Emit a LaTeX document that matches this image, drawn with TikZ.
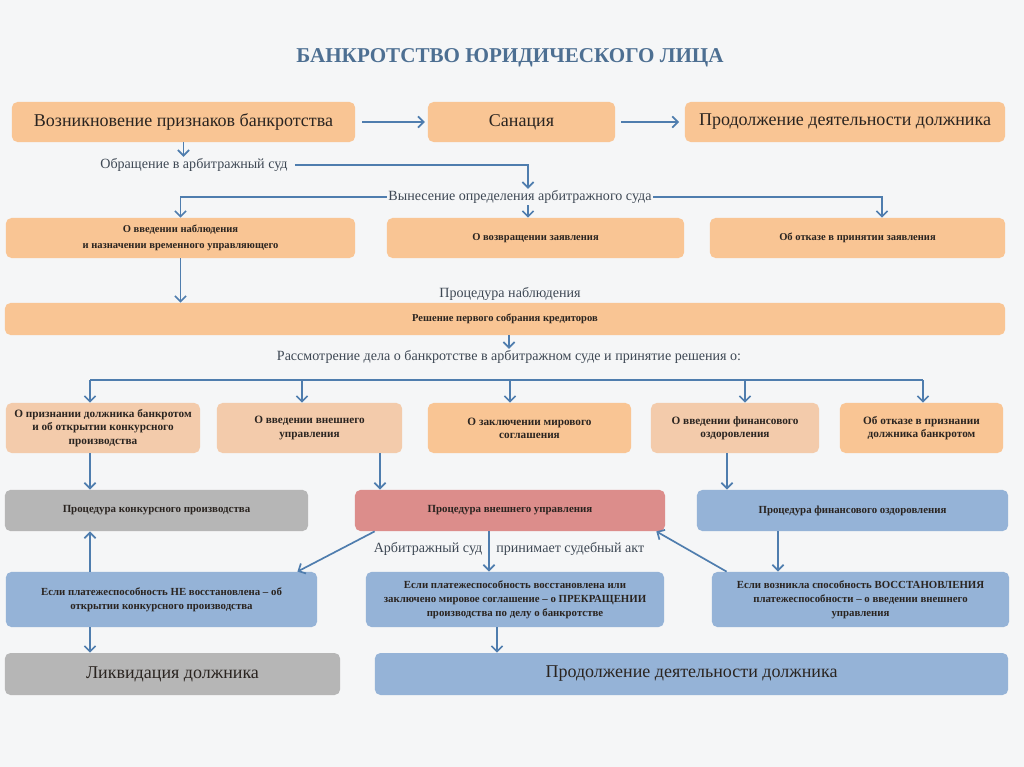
\documentclass[tikz,border=0pt]{standalone}
\usepackage{fontspec}
\setmainfont{Liberation Serif}
\usetikzlibrary{arrows.meta, calc}

\definecolor{bgcol}{HTML}{F5F6F7}
\definecolor{orcol}{HTML}{F9C594}
\definecolor{pecol}{HTML}{F3CBAB}
\definecolor{grcol}{HTML}{B6B6B6}
\definecolor{rdcol}{HTML}{DC8D8B}
\definecolor{blcol}{HTML}{95B3D7}
\definecolor{arrcol}{HTML}{4F7DAE}
\definecolor{txtcol}{HTML}{2A2420}
\definecolor{lblcol}{HTML}{3E4854}
\definecolor{titlecol}{HTML}{4D6F92}

\begin{document}
\begin{tikzpicture}[x=0.025cm, y=-0.025cm, >={Straight Barb[length=4pt,width=8pt]}]
      % Node style
      \tikzset{
        box/.style={rounded corners=4pt, align=center, inner sep=2pt, text=txtcol, font=\fontsize{8}{9.4}\selectfont\bfseries},
        orbox/.style={box, fill=orcol},
        pebox/.style={box, fill=pecol},
        grbox/.style={box, fill=grcol, font=\fontsize{7.75}{9.4}\selectfont\bfseries},
        rdbox/.style={box, fill=rdcol, font=\fontsize{7.75}{9.4}\selectfont\bfseries},
        blbox/.style={box, fill=blcol, font=\fontsize{7.7}{10}\selectfont\bfseries},
        small/.style={font=\fontsize{7.5}{11.5}\selectfont\bfseries},
        big/.style={font=\fontsize{12.8}{15}\selectfont},
        lbl/.style={text=lblcol, inner sep=1pt, font=\fontsize{10}{12}\selectfont},
        line/.style={draw=arrcol, line width=1.2pt},
        arr/.style={line, ->},
      }
      % Background
      \fill[bgcol] (0,0) rectangle (1024,767);
      \useasboundingbox (0,0) rectangle (1024,767);
      % Nodes
      \node (title) [text=titlecol, font=\fontsize{15}{18}\selectfont\bfseries] at (510,58) {БАНКРОТСТВО ЮРИДИЧЕСКОГО ЛИЦА};
      \node (start) [orbox, big, minimum width=8.58cm, minimum height=1cm] at (183.5,122) {Возникновение признаков банкротства};
      \node (sanation) [orbox, big, minimum width=4.68cm, minimum height=1cm] at (521.5,122) {Санация};
      \node (goon) [orbox, big, minimum width=8cm, minimum height=1cm] at (845,122) {Продолжение деятельности должника};
      \node (appeal) [lbl] at (194,165) {Обращение в арбитражный суд};
      \node (ruling) [lbl] at (520,197) {Вынесение определения арбитражного суда};
      \node (watch) [orbox, small, minimum width=8.73cm, minimum height=1cm] at (180.5,238) {О введении наблюдения\\и назначении временного управляющего};
      \node (back) [orbox, small, minimum width=7.43cm, minimum height=1cm] at (535.5,238) {О возвращении заявления};
      \node (refuse) [orbox, small, minimum width=7.38cm, minimum height=1cm] at (857.5,238) {Об отказе в принятии заявления};
      \node (watchlbl) [lbl] at (510,294) {Процедура наблюдения};
      \node (meeting) [orbox, small, minimum width=25cm, minimum height=0.8cm] at (505,319) {Решение первого собрания кредиторов};
      \node (review) [lbl] at (509,357) {Рассмотрение дела о банкротстве в арбитражном суде и принятие решения о:};
      \node (bankrupt) [pebox, minimum width=4.85cm, minimum height=1.25cm] at (103,428) {О признании должника банкротом\\и об открытии конкурсного\\производства};
      \node (extern) [pebox, minimum width=4.63cm, minimum height=1.25cm] at (309.5,428) {О введении внешнего\\управления};
      \node (peace) [orbox, minimum width=5.08cm, minimum height=1.25cm] at (529.5,428) {О заключении мирового\\соглашения};
      \node (finance) [pebox, minimum width=4.2cm, minimum height=1.25cm] at (735,428) {О введении финансового\\оздоровления};
      \node (nobank) [orbox, minimum width=4.08cm, minimum height=1.25cm] at (921.5,428) {Об отказе в признании\\должника банкротом};
      \node (konk) [grbox, minimum width=7.58cm, minimum height=1.03cm] at (156.5,510.5) {Процедура конкурсного производства};
      \node (extproc) [rdbox, minimum width=7.75cm, minimum height=1.03cm] at (510,510.5) {Процедура внешнего управления};
      \node (finproc) [blbox, minimum width=7.78cm, minimum height=1.03cm] at (852.5,510.5) {Процедура финансового оздоровления};
      \node (act) [lbl] at (509,549) {Арбитражный суд\quad принимает судебный акт};
      \node (notrest) [blbox, minimum width=7.78cm, minimum height=1.38cm] at (161.5,599.5) {Если платежеспособность НЕ восстановлена – об\\открытии конкурсного производства};
      \node (stop) [blbox, minimum width=7.45cm, minimum height=1.38cm] at (515,599.5) {Если платежеспособность восстановлена или\\заключено мировое соглашение – о ПРЕКРАЩЕНИИ\\производства по делу о банкротстве};
      \node (restore) [blbox, minimum width=7.43cm, minimum height=1.38cm] at (860.5,599.5) {Если возникла способность ВОССТАНОВЛЕНИЯ\\платежеспособности – о введении внешнего\\управления};
      \node (liquid) [grbox, big, minimum width=8.38cm, minimum height=1.05cm] at (172.5,674) {Ликвидация должника};
      \node (goon2) [blbox, big, minimum width=15.83cm, minimum height=1.05cm] at (691.5,674) {Продолжение деятельности должника};
      % Branch points
      \coordinate (d1) at (90,380);
      \coordinate (d2) at (302,380);
      \coordinate (d3) at (510,380);
      \coordinate (d4) at (745,380);
      \coordinate (d5) at (923,380);
      \coordinate (xm) at (528,0);
      \coordinate (xr) at (882,0);
      \coordinate (xe) at (380,0);
      \coordinate (xf) at (727,0);
      \coordinate (xa) at (489,0);
      \coordinate (xq) at (497,0);
      \coordinate (xo) at (778,0);
      % Arrows
      \draw[arr, shorten <=5pt, shorten >=2pt] (start) -- (sanation);
      \draw[arr, shorten <=4pt, shorten >=4pt] (sanation) -- (goon);
      \draw[arr] (start.south) -- (start.south |- appeal.north);
      \draw[arr, shorten <=4pt] (appeal.east) -| (ruling.north -| xm);
      \draw[arr] (ruling.west) -| (watch.north);
      \draw[arr] (ruling.east) -| (refuse.north -| xr);
      \draw[arr] (ruling.south -| xm) -- (back.north -| xm);
      \draw[arr] (watch.south) -- (watch.south |- meeting.north);
      \draw[arr] (meeting.south -| review.north) -- (review.north);
      \draw[line] (d1) -- (d5);
      \foreach \d/\n in {d1/bankrupt, d2/extern, d3/peace, d4/finance, d5/nobank}
        \draw[arr] (\d) -- (\n.north -| \d);
      \draw[arr] (bankrupt.south -| d1) -- (konk.north -| d1);
      \draw[arr] (extern.south -| xe) -- (extproc.north -| xe);
      \draw[arr] (finance.south -| xf) -- (finproc.north -| xf);
      \draw[arr] (extproc.south -| xa) -- (stop.north -| xa);
      \draw[arr] ($(extproc.south west)+(20,0)$) -- ($(notrest.north east)+(-20,0)$);
      \draw[arr] ($(restore.north west)+(15,0)$) -- ($(extproc.south east)+(-9,0)$);
      \draw[arr] (finproc.south -| xo) -- (restore.north -| xo);
      \draw[arr] (notrest.north -| d1) -- (konk.south -| d1);
      \draw[arr] (notrest.south -| d1) -- (liquid.north -| d1);
      \draw[arr] (stop.south -| xq) -- (goon2.north -| xq);
    \end{tikzpicture}
\end{document}
